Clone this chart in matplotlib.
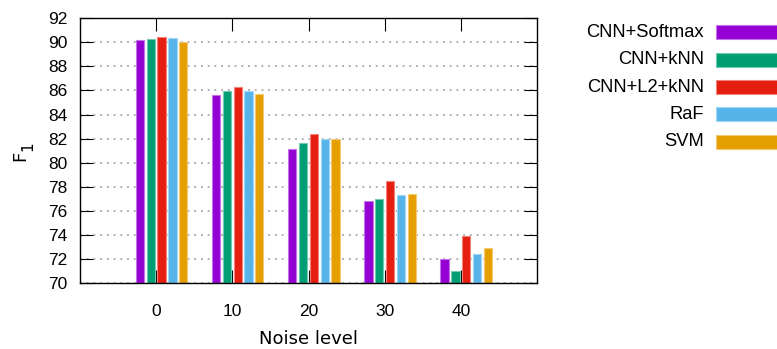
import matplotlib
matplotlib.use("Agg")
import matplotlib.pyplot as plt
from matplotlib.patches import Rectangle
from matplotlib.colors import to_rgb
import numpy as np

plt.rcParams['font.family'] = ['Liberation Sans', 'DejaVu Sans']

noise_levels = [0, 10, 20, 30, 40]
series_names = ["CNN+Softmax", "CNN+kNN", "CNN+L2+kNN", "RaF", "SVM"]
softmax = [90.2, 85.6, 81.1, 76.8, 72.0]
knn = [90.3, 85.95, 81.6, 76.95, 71.0]
l2knn = [90.45, 86.3, 82.4, 78.5, 73.9]
raf = [90.35, 85.95, 82.0, 77.35, 72.45]
svm = [90.05, 85.7, 82.0, 77.4, 72.9]
series_values = [softmax, knn, l2knn, raf, svm]
colors = ["#9400D3", "#009E73", "#E51E10", "#56B4E9", "#E69F00"]
yticks = [70, 72, 74, 76, 78, 80, 82, 84, 86, 88, 90, 92]

W, H = 777, 349
fig = plt.figure(figsize=(W / 100, H / 100), dpi=100)
L, R, T, B = 80, 537, 18.3, 283
ax = fig.add_axes([L / W, 1 - B / H, (R - L) / W, (B - T) / H])

def lighten(c, f=0.45):
    r, g, b = to_rgb(c)
    return (r + (1 - r) * f, g + (1 - g) * f, b + (1 - b) * f)

pitch = 1.42
bw = 1.08
x = np.array(noise_levels, dtype=float)
for i, (vals, c) in enumerate(zip(series_values, colors)):
    ax.bar(x + (i - 1.5) * pitch, np.array(vals) - 70, bottom=70, width=bw,
           color=c, edgecolor=lighten(c), linewidth=0.8, zorder=2)

ax.set_xlim(-10, 50)
ax.set_ylim(70, 92)
ax.set_xticks(noise_levels)
ax.set_yticks(yticks)
ax.tick_params(axis='both', which='both', direction='in', length=9.5, width=0.8,
               labelsize=12.5, top=True, right=True, colors='black')
ax.tick_params(axis='y', pad=9)
ax.tick_params(axis='x', pad=15)
ax.yaxis.grid(True, linestyle=(0, (1.2, 3.2)), color='#999999', linewidth=1.1, zorder=1)
ax.set_axisbelow(True)
for s in ax.spines.values():
    s.set_linewidth(1.0)
    s.set_zorder(3)

ax.set_xlabel("Noise level", fontsize=13, labelpad=8, family='DejaVu Sans')

# y label: F with subscript 1
fig.text(20.5 / W, 1 - 155.5 / H, "F", rotation=90, ha='center', va='center',
         fontsize=13, family='DejaVu Sans')
fig.text(27.5 / W, 1 - 146.3 / H, "1", rotation=90, ha='center', va='center',
         fontsize=11, family='DejaVu Sans')

# legend (manual, right side)
row_y = [32.3, 59.8, 87.0, 114.3, 141.7]
for name, c, yy in zip(series_names, colors, row_y):
    fig.text(704 / W, 1 - yy / H, name, ha='right', va='center', fontsize=13.2)
    fig.patches.append(Rectangle((716 / W, 1 - (yy + 7) / H), 80 / W, 14 / H,
                                 transform=fig.transFigure, facecolor=c,
                                 edgecolor=lighten(c), linewidth=0.8))

fig.savefig("out.png", dpi=100)
